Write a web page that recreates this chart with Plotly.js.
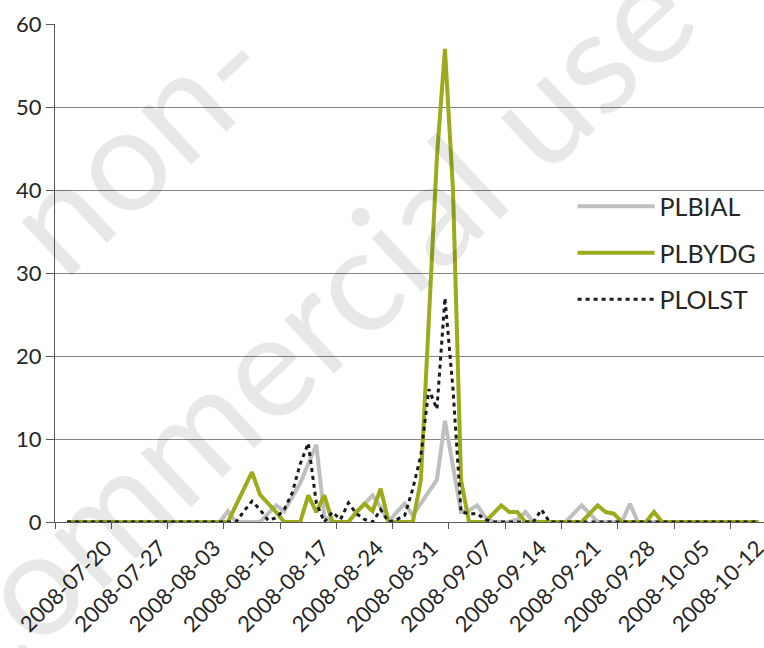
<!DOCTYPE html>
<html>
<head>
<meta charset="utf-8">
<script src="https://cdn.plot.ly/plotly-3.0.1.min.js"></script>
<style>
  html, body { margin: 0; padding: 0; background: #ffffff; }
  #chart { width: 764px; height: 648px; }
</style>
</head>
<body>
<div id="chart"></div>
<script>
// ---- data (daily, starting 2008-07-14) ----
const startDate = '2008-07-14';

const PLBIAL = [
  0,0,0,0,0,0,0,0,0,0, 0,0,0,0,0,0,0,0,0,0,
  1.3,0,0,0,0,1,2,1.3,3,4.7,
  7,9.3,0.6,0,0,0,1.2,2.2,3.2,1.8,
  0,1.2,2.2,0.8,2.3,3.7,5.1,12.2,6.5,1.2,
  1.4,2,0.6,0,0,0,0.3,1.2,0,0,
  0,0,0,1,2,1,0,0,0,0,
  2.2,0,0,0,0,0,0,0,0,0,
  0,0,0,0,0,0,0
];

const PLBYDG = [
  0,0,0,0,0,0,0,0,0,0, 0,0,0,0,0,0,0,0,0,0,
  0,2,4,6,3.3,2.3,1.2,0,0,0,
  3.2,1.2,3.2,0,0,0,1.2,2.2,1.3,4,
  0,0,0,0,5,25,44,57,40,5,
  0,0,0,1,2,1.2,1.2,0,0,0,
  0,0,0,0,0,1,2,1.2,1,0,
  0,0,0,1.2,0,0,0,0,0,0,
  0,0,0,0,0,0,0
];

const PLOLST = [
  0,0,0,0,0,0,0,0,0,0, 0,0,0,0,0,0,0,0,0,0,
  0,0,1.3,2.5,1.5,0.2,0.5,1.5,3.5,7,
  9.5,2.3,0,1.2,0.3,2.3,1,0.3,0,1.5,
  0,0.3,0.8,4,8,16,13.6,27,16,1.2,
  1,1,0.3,0,0,0,0,0,0,1.5,
  0,0,0,0,0,0,0,0,0,0,
  0,0,0,0,0,0,0,0,0,0,
  0,0,0,0,0,0,0
];

const tickLabels = [
  '2008-07-20','2008-07-27','2008-08-03','2008-08-10','2008-08-17',
  '2008-08-24','2008-08-31','2008-09-07','2008-09-14','2008-09-21',
  '2008-09-28','2008-10-05','2008-10-12'
];

const yTicks = [0, 10, 20, 30, 40, 50, 60];

// ---- build dates ----
function dayString(i) {
  const p = startDate.split('-').map(Number);
  const d = new Date(Date.UTC(p[0], p[1] - 1, p[2] + i));
  return d.toISOString().slice(0, 10);
}
const dates = PLBIAL.map((_, i) => dayString(i));

const FONT = 'Lato, "Open Sans", "DejaVu Sans", sans-serif';
const AXIS_COLOR = '#595959';
const TEXT_COLOR = '#262626';
const WM_COLOR = 'rgba(0,0,0,0.09)';

const traces = [
  {
    name: 'PLBIAL', x: dates, y: PLBIAL, type: 'scatter', mode: 'lines',
    line: { color: '#bfbfbf', width: 4 }, legendgroup: 'g1', hoverinfo: 'x+y'
  },
  {
    name: 'PLBYDG', x: dates, y: PLBYDG, type: 'scatter', mode: 'lines',
    line: { color: '#9caa1c', width: 4 }, legendgroup: 'g2', hoverinfo: 'x+y'
  },
  {
    name: 'PLOLST', x: dates, y: PLOLST, type: 'scatter', mode: 'lines',
    line: { color: '#1a1a1a', width: 3, dash: '4px,4px' }, legendgroup: 'g3', hoverinfo: 'x+y'
  },
  {
    x: [], y: [], xaxis: 'x2', yaxis: 'y', type: 'scatter', mode: 'lines',
    showlegend: false, hoverinfo: 'skip'
  }
];

const layout = {
  width: 764,
  height: 648,
  margin: { l: 55, r: 0, t: 24, b: 126, pad: 0 },
  paper_bgcolor: '#ffffff',
  plot_bgcolor: 'rgba(0,0,0,0)',
  font: { family: FONT, color: TEXT_COLOR },
  showlegend: true,
  xaxis: {
    type: 'date',
    range: ['2008-07-12 12:00', '2008-10-08 16:20'],
    tick0: '2008-07-12 12:00',
    dtick: 7 * 86400000,
    ticks: 'outside',
    ticklen: 6,
    tickwidth: 1,
    tickcolor: AXIS_COLOR,
    showticklabels: false,
    showgrid: false,
    zeroline: false,
    showline: true,
    linecolor: AXIS_COLOR,
    linewidth: 1,
    fixedrange: true
  },
  xaxis2: {
    type: 'date',
    overlaying: 'x',
    anchor: 'y',
    side: 'bottom',
    range: ['2008-07-13 12:00', '2008-10-12 20:00'],
    tickmode: 'array',
    tickvals: tickLabels,
    ticktext: tickLabels,
    tickangle: -45,
    ticks: '',
    ticklabelstandoff: 8,
    ticklabeloverflow: 'allow',
    showgrid: false,
    zeroline: false,
    showline: false,
    tickfont: { family: FONT, size: 22, color: TEXT_COLOR },
    fixedrange: true
  },
  yaxis: {
    range: [0, 60],
    tickmode: 'array',
    tickvals: yTicks,
    ticktext: yTicks.map(String),
    ticks: 'outside',
    ticklen: 8,
    tickwidth: 1,
    tickcolor: AXIS_COLOR,
    showgrid: true,
    gridcolor: '#858585',
    gridwidth: 1,
    zeroline: false,
    showline: true,
    linecolor: AXIS_COLOR,
    linewidth: 1,
    tickfont: { family: FONT, size: 22, color: TEXT_COLOR },
    fixedrange: true
  },
  legend: {
    x: 0.73,
    xanchor: 'left',
    y: 0.54,
    yanchor: 'middle',
    bgcolor: 'rgba(0,0,0,0)',
    borderwidth: 0,
    font: { family: FONT, size: 25, color: TEXT_COLOR },
    itemwidth: 77,
    tracegroupgap: 11
  },
  annotations: [
    {
      text: 'non-', xref: 'paper', yref: 'paper', x: 0.113, y: 0.767,
      xanchor: 'center', yanchor: 'middle',
      showarrow: false, textangle: -43,
      font: { family: FONT, size: 145, color: WM_COLOR }
    },
    {
      text: 'commercial use', xref: 'paper', yref: 'paper', x: 0.356, y: 0.402,
      xanchor: 'center', yanchor: 'middle',
      showarrow: false, textangle: -43,
      font: { family: FONT, size: 145, color: WM_COLOR }
    }
  ]
};

Plotly.newPlot('chart', traces, layout, { displayModeBar: false, staticPlot: true });
</script>
</body>
</html>
